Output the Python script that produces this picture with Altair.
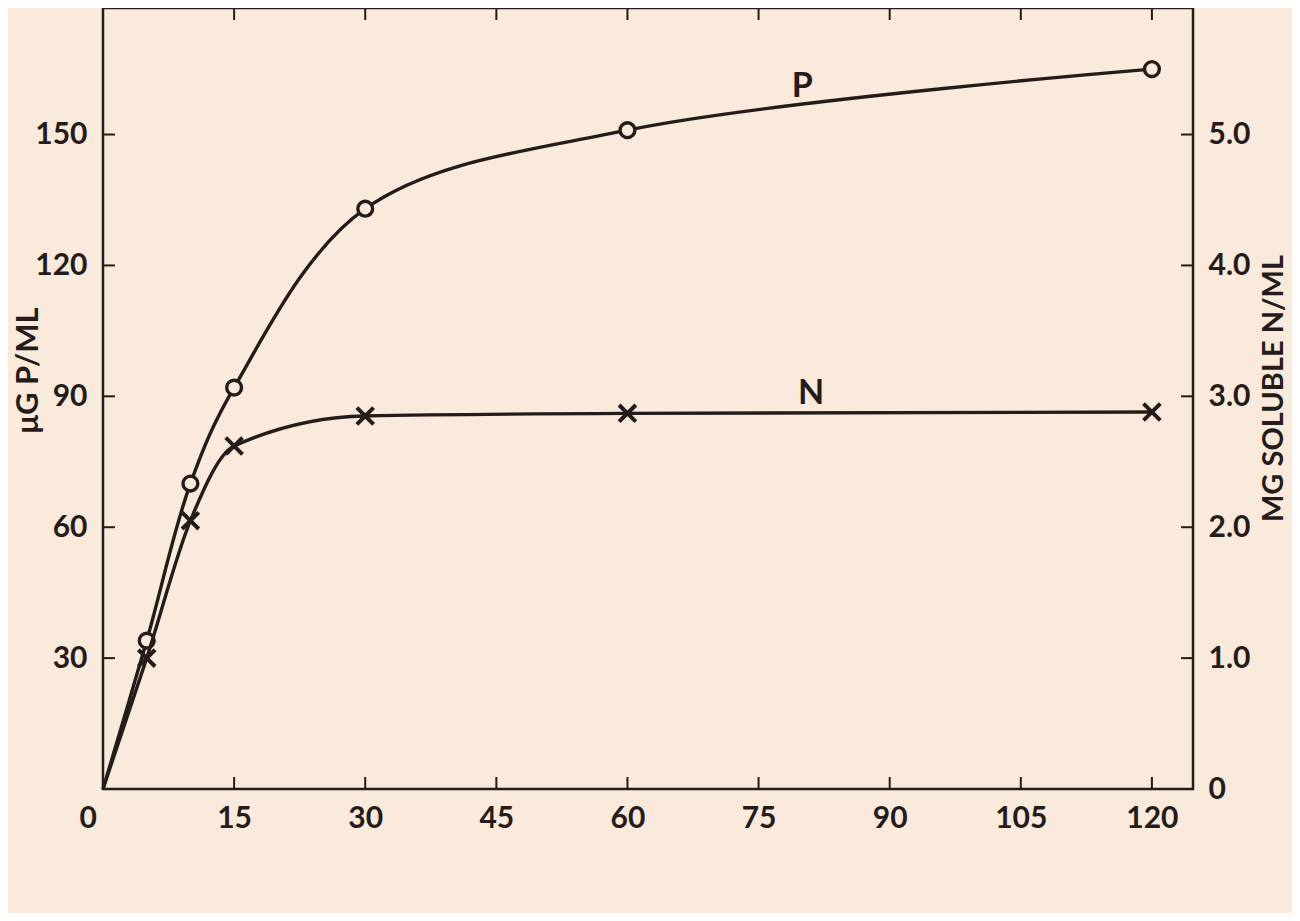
import altair as alt
import pandas as pd

# ---- data ----
time_min = [0, 5, 10, 15, 30, 60, 120]
p_ug_ml = [0, 34, 70, 92, 133, 151, 165]          # left axis, ug P / ml
n_mg_ml = [0, 1.0, 2.05, 2.62, 2.85, 2.87, 2.88]  # right axis, mg soluble N / ml

x_ticks = [0, 15, 30, 45, 60, 75, 90, 105, 120]
left_ticks = [30, 60, 90, 120, 150]
right_ticks = [0, 1.0, 2.0, 3.0, 4.0, 5.0]

label_text = ["P", "N"]
label_time = [80, 81]
label_value = [161, 3.02]   # P in ug/ml, N in mg/ml

# ---- styling ----
BG = "#f9eadb"
INK = "#231c1a"
FONT = "Lato"
X_MAX = 124.7
Y_MAX = 179.0
N_MAX = Y_MAX / 30.0

xs = alt.Scale(domain=[0, X_MAX], nice=False, zero=False)
ys_left = alt.Scale(domain=[0, Y_MAX], nice=False)
ys_right = alt.Scale(domain=[0, N_MAX], nice=False)

df = pd.DataFrame({"t": time_min, "p": p_ug_ml, "n": n_mg_ml})
pts = df[df["t"] > 0]

x_axis = alt.Axis(values=x_ticks, title=None, ticks=False, domain=False, grid=False,
                  labelPadding=14, labelFontSize=30, labelFont=FONT, labelFontWeight="bold",
                  labelColor=INK,
                  labelOffset={"condition": {"test": "datum.value === 0", "value": -24},
                               "value": 0})
left_axis = alt.Axis(values=left_ticks, title="\u03bcG P/ML", orient="left", ticks=False,
                     domain=False, grid=False, labelPadding=16, labelFontSize=30,
                     labelFont=FONT, labelFontWeight="bold", labelColor=INK,
                     titleFont=FONT, titleFontSize=31, titleFontWeight="bold", titleColor=INK,
                     titleAngle=270, titleX=-75, titleY=362, titleAlign="center",
                     titleBaseline="middle")
right_axis = alt.Axis(values=right_ticks, title="MG SOLUBLE N/ML", orient="right", ticks=False,
                      domain=False, grid=False, labelPadding=15, labelFontSize=30,
                      labelFont=FONT, labelFontWeight="bold", labelColor=INK,
                      labelExpr="datum.value == 0 ? '0' : format(datum.value, '.1f')",
                      titleFont=FONT, titleFontSize=29, titleFontWeight="bold", titleColor=INK,
                      titleAngle=270, titleX=80, titleY=380, titleAlign="center",
                      titleBaseline="middle")

# ---- P (left axis) group ----
p_line = alt.Chart(df).mark_line(color=INK, strokeWidth=3.4, interpolate="catmull-rom").encode(
    x=alt.X("t:Q", scale=xs, axis=x_axis),
    y=alt.Y("p:Q", scale=ys_left, axis=left_axis),
)
p_pts = alt.Chart(pts).mark_point(shape="circle", size=220, filled=True, fill=BG,
                                  stroke=INK, strokeWidth=3.4, opacity=1).encode(
    x=alt.X("t:Q", scale=xs), y=alt.Y("p:Q", scale=ys_left))

# inward tick marks, drawn through the scales
xt = pd.DataFrame({"v": x_ticks[1:]})
yt = pd.DataFrame({"v": left_ticks})
TX = 12 / (1090 / X_MAX)   # tick length in x units
TY = 12 / (781 / Y_MAX)    # tick length in y units
bottom_ticks = alt.Chart(xt).mark_rule(color=INK, strokeWidth=2).encode(
    x=alt.X("v:Q", scale=xs), y=alt.datum(0, scale=ys_left), y2=alt.datum(TY))
top_ticks = alt.Chart(xt).mark_rule(color=INK, strokeWidth=2).encode(
    x=alt.X("v:Q", scale=xs), y=alt.datum(Y_MAX, scale=ys_left), y2=alt.datum(Y_MAX - TY))
left_tk = alt.Chart(yt).mark_rule(color=INK, strokeWidth=2).encode(
    y=alt.Y("v:Q", scale=ys_left), x=alt.datum(0, scale=xs), x2=alt.datum(TX))
right_tk = alt.Chart(yt).mark_rule(color=INK, strokeWidth=2).encode(
    y=alt.Y("v:Q", scale=ys_left), x=alt.datum(X_MAX, scale=xs), x2=alt.datum(X_MAX - TX))

lab_p = alt.Chart(pd.DataFrame({"t": [label_time[0]], "v": [label_value[0]],
                                "s": [label_text[0]]})).mark_text(
    font=FONT, fontSize=34, fontWeight="bold", color=INK).encode(
    x=alt.X("t:Q", scale=xs), y=alt.Y("v:Q", scale=ys_left), text="s:N")

p_group = alt.layer(p_line, bottom_ticks, top_ticks, left_tk, right_tk, p_pts, lab_p)

# ---- N (right axis) group ----
x_path = "M-1,-1L1,1M-1,1L1,-1"
n_line = alt.Chart(df).mark_line(color=INK, strokeWidth=3.4, interpolate="monotone").encode(
    x=alt.X("t:Q", scale=xs),
    y=alt.Y("n:Q", scale=ys_right, axis=right_axis),
)
n_pts = alt.Chart(pts).mark_point(shape=x_path, size=280, filled=False, stroke=INK,
                                  strokeWidth=4, opacity=1).encode(
    x=alt.X("t:Q", scale=xs), y=alt.Y("n:Q", scale=ys_right))
lab_n = alt.Chart(pd.DataFrame({"t": [label_time[1]], "v": [label_value[1]],
                                "s": [label_text[1]]})).mark_text(
    font=FONT, fontSize=34, fontWeight="bold", color=INK).encode(
    x=alt.X("t:Q", scale=xs), y=alt.Y("v:Q", scale=ys_right), text="s:N")

n_group = alt.layer(n_line, n_pts, lab_n)

chart = alt.layer(p_group, n_group).resolve_scale(y="independent").properties(
    width=1090, height=781,
    autosize=alt.AutoSizeParams(type="none"),
    padding={"left": 95, "top": 0, "right": 99, "bottom": 124},
    background=BG,
).configure_view(stroke=INK, strokeWidth=2.5)

chart.save("out.html", embed_options={"renderer": "svg", "actions": False})
